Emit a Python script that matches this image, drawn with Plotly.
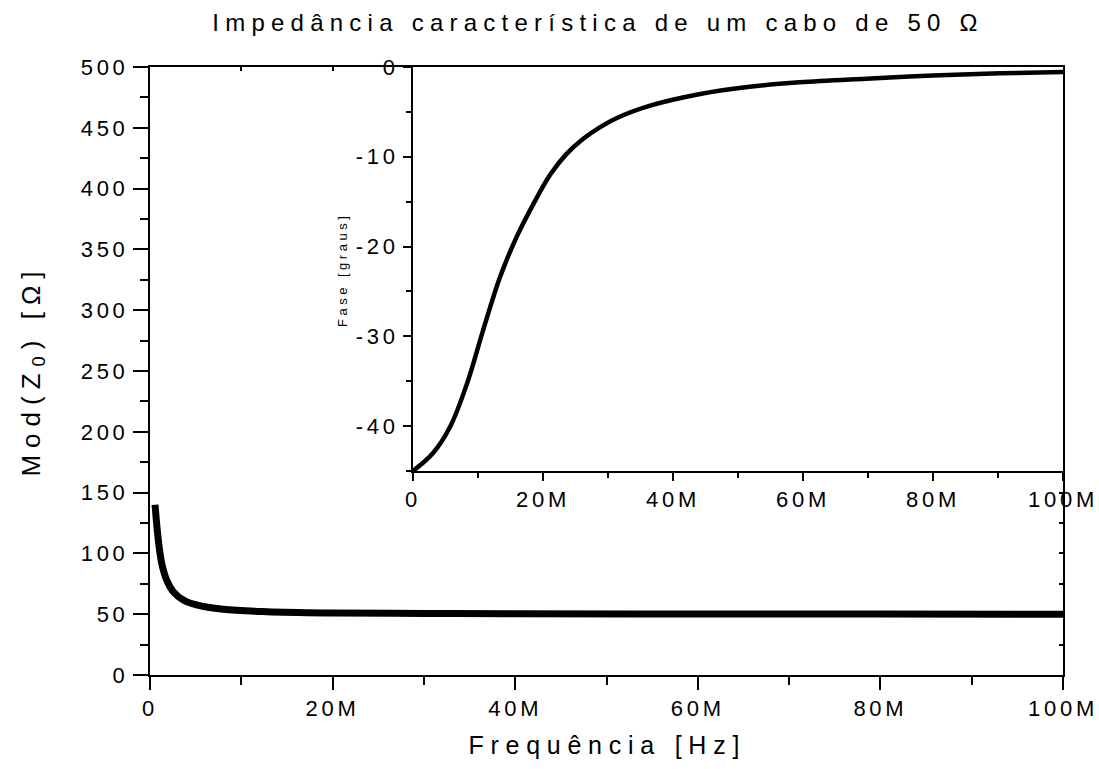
import plotly.graph_objects as go

# ---- data ----
freq_mod_mhz = [0.55, 0.91, 1.28, 1.83, 2.55, 3.65, 5.1, 8.0, 12.8, 20, 30, 40, 60, 80, 100]
mod_z0 = [140, 111, 92, 78, 68.5, 61.7, 57.6, 54, 52, 51, 50.6, 50.4, 50.2, 50.1, 50.0]

freq_phase_mhz = [0, 3.1, 5.7, 8.3, 10.8, 13.4, 15.9, 18.5, 21.1, 23.6, 26.2, 28.8, 31.3,
                  36.5, 44.2, 51.8, 59.5, 69.7, 80, 90.3, 100]
phase_deg = [-45.0, -43.0, -40.1, -35.3, -29.3, -23.4, -19.0, -15.3, -12.0, -9.7, -8.0, -6.7, -5.7,
             -4.3, -3.0, -2.2, -1.7, -1.3, -0.95, -0.7, -0.55]

x_tickvals = [0, 20, 40, 60, 80, 100]
x_ticktext = ["0", "20M", "40M", "60M", "80M", "100M"]
x_minor = [10, 30, 50, 70, 90]
phase_tickvals = [0, -10, -20, -30, -40]
phase_ticktext = ["0", "-10", "-20", "-30", "-40"]
phase_minor = [-5, -15, -25, -35, -45]

title_text = "Impedância característica de um cabo de 50 Ω"
xtitle_text = "Frequência [Hz]"
ytitle_text = "Mod(Z<sub>0</sub>) [Ω]"
inset_ytitle = "Fase [graus]"

FONT = "Liberation Sans, Arial, sans-serif"

fig = go.Figure()
fig.add_trace(go.Scatter(x=freq_mod_mhz, y=mod_z0, mode="lines", line_shape="spline",
                         line=dict(color="black", width=7), xaxis="x", yaxis="y",
                         showlegend=False, hoverinfo="skip"))
fig.add_trace(go.Scatter(x=freq_phase_mhz, y=phase_deg, mode="lines", line_shape="spline",
                         line=dict(color="black", width=4.5), xaxis="x2", yaxis="y2",
                         showlegend=False, hoverinfo="skip"))
# empty trace to host the mirror (top/right) tick axes
fig.add_trace(go.Scatter(x=[None], y=[None], xaxis="x3", yaxis="y3", showlegend=False,
                         hoverinfo="skip"))

tickfont = dict(family=FONT, size=22, color="black")

fig.update_layout(
    width=1099, height=769,
    margin=dict(l=150, r=36, t=67, b=94, autoexpand=False),
    paper_bgcolor="white", plot_bgcolor="white",
    font=dict(family=FONT, color="black"),
    title=dict(text=title_text, x=(598 - 150) / 913, xref="paper", xanchor="center",
               y=1 - 23 / 769, yref="container", yanchor="middle",
               font=dict(family=FONT, size=24, color="black")),
    xaxis=dict(domain=[0, 1], anchor="y", range=[0, 100], tickmode="array",
               tickvals=x_tickvals, ticktext=x_ticktext, ticks="outside", ticklen=13,
               tickwidth=2, tickcolor="black", showline=True, linewidth=2, linecolor="black",
               showgrid=False, zeroline=False, tickfont=tickfont,
               minor=dict(tickmode="array", tickvals=x_minor, ticks="outside", ticklen=8,
                          tickwidth=2, tickcolor="black", showgrid=False)),
    yaxis=dict(domain=[0, 1], anchor="x", range=[0, 500], tickmode="linear", tick0=0, dtick=50,
               ticks="outside", ticklen=15, tickwidth=2, tickcolor="black", showline=True,
               linewidth=2, linecolor="black", showgrid=False, zeroline=False, tickfont=tickfont,
               minor=dict(tickmode="linear", tick0=0, dtick=25, ticks="outside", ticklen=8,
                          tickwidth=2, tickcolor="black", showgrid=False)),
    xaxis3=dict(overlaying="x", anchor="y", side="top", range=[0, 100], tickmode="linear",
                tick0=0, dtick=10, ticks="inside", ticklen=4, tickwidth=2, tickcolor="black",
                showticklabels=False, showline=True, linewidth=2, linecolor="black",
                showgrid=False, zeroline=False),
    yaxis3=dict(overlaying="y", anchor="x", side="right", range=[0, 500], tickmode="linear",
                tick0=0, dtick=25, ticks="inside", ticklen=4, tickwidth=2, tickcolor="black",
                showticklabels=False, showline=True, linewidth=2, linecolor="black",
                showgrid=False, zeroline=False),
    xaxis2=dict(domain=[0.288, 1], anchor="y2", range=[0, 100], tickmode="array",
                tickvals=x_tickvals, ticktext=x_ticktext, ticks="outside", ticklen=8,
                tickwidth=1.5, tickcolor="black", showline=True, linewidth=1.5, linecolor="black",
                showgrid=False, zeroline=False, tickfont=tickfont,
                minor=dict(tickmode="array", tickvals=x_minor, ticks="outside", ticklen=5,
                           tickwidth=1.5, tickcolor="black", showgrid=False)),
    yaxis2=dict(domain=[0.3355, 1], anchor="x2", range=[-45, 0], tickmode="array",
                tickvals=phase_tickvals, ticktext=phase_ticktext, ticks="outside", ticklen=8,
                tickwidth=1.5, tickcolor="black", showline=True, linewidth=1.5, linecolor="black",
                showgrid=False, zeroline=False, tickfont=tickfont,
                minor=dict(tickmode="array", tickvals=phase_minor, ticks="outside", ticklen=5,
                           tickwidth=1.5, tickcolor="black", showgrid=False)),
    annotations=[
        dict(text=xtitle_text, xref="paper", yref="paper", x=0.5, y=-(745 - 675) / 608,
             xanchor="center", yanchor="middle", showarrow=False,
             font=dict(family=FONT, size=25, color="black")),
        dict(text=ytitle_text, xref="paper", yref="paper", x=-(150 - 32) / 913, y=0.5,
             xanchor="center", yanchor="middle", textangle=-90, showarrow=False,
             font=dict(family=FONT, size=26, color="black")),
        dict(text=inset_ytitle, xref="paper", yref="paper", x=(342 - 150) / 913,
             y=(675 - 270) / 608, xanchor="center", yanchor="middle", textangle=-90,
             showarrow=False, font=dict(family=FONT, size=13, color="black")),
    ],
)

post = """
document.body.style.margin='0';
var gd = document.getElementById('{plot_id}');
function spaceText(){
  gd.querySelectorAll('text').forEach(function(t){ t.style.letterSpacing='0.27em'; });
  gd.querySelectorAll('.gtitle').forEach(function(t){ t.style.letterSpacing='0.26em'; });
  gd.querySelectorAll('[class$="tick"] text').forEach(function(t){ t.style.letterSpacing='0.17em'; });
}
spaceText();
if (gd.on) { gd.on('plotly_afterplot', spaceText); }
setTimeout(spaceText, 50);
"""

fig.write_html("out.html", post_script=post, config={"displayModeBar": False})
